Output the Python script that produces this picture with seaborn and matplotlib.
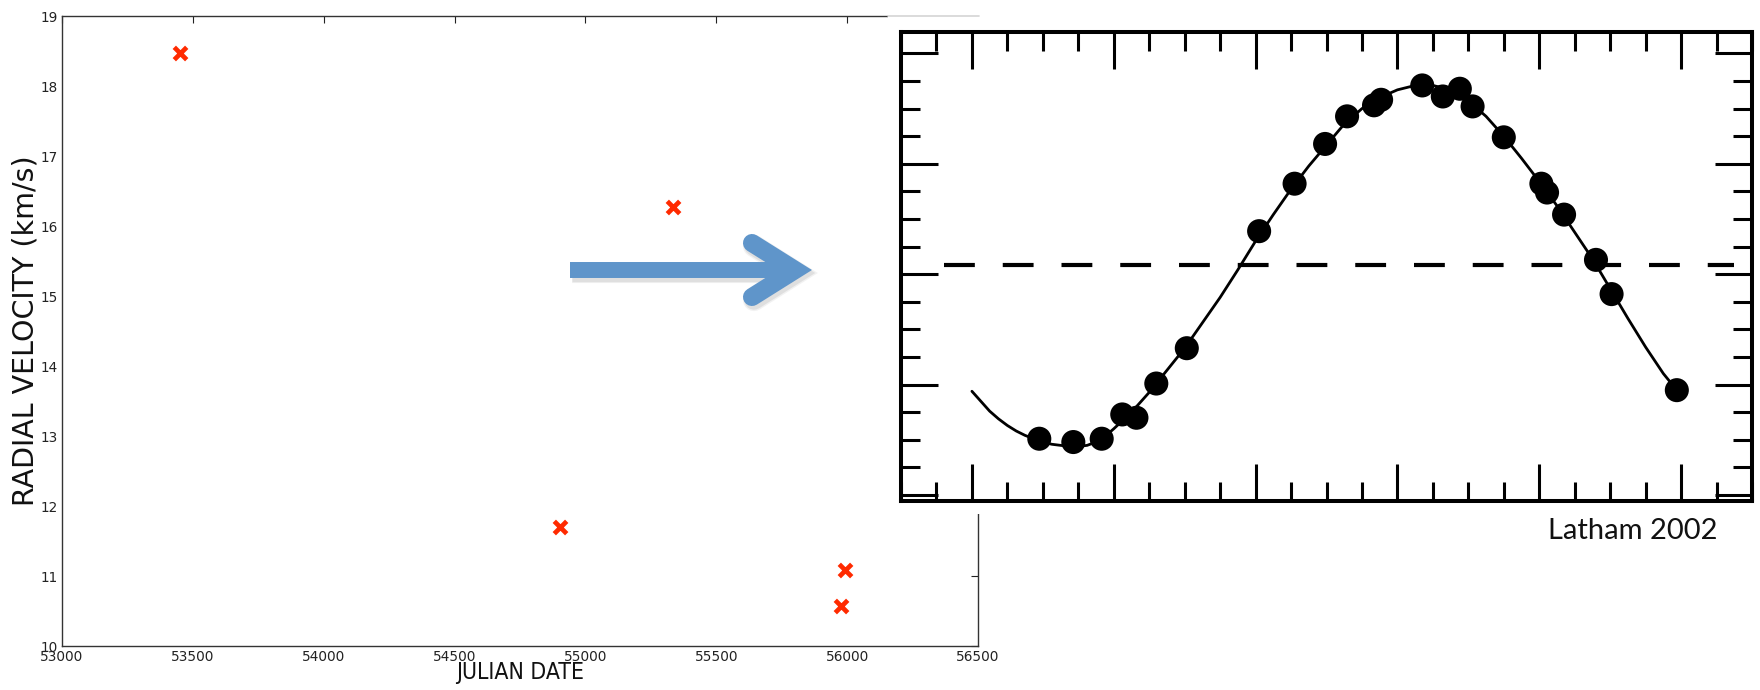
import matplotlib
matplotlib.use("Agg")
import matplotlib.pyplot as plt
from matplotlib.patches import Rectangle
from matplotlib.lines import Line2D
from matplotlib.ticker import MultipleLocator, NullFormatter
import seaborn as sns

# Radial velocity measurements
julian_date = [53450, 54902, 55335, 55990, 55978]
radial_velocity = [18.47, 11.70, 16.27, 11.08, 10.57]
x_ticks = [53000, 53500, 54000, 54500, 55000, 55500, 56000, 56500]
y_ticks = [10, 11, 12, 13, 14, 15, 16, 17, 18, 19]

# Phase-folded velocities (Latham 2002)
phase = [0.095, 0.143, 0.183, 0.212, 0.232, 0.260, 0.303, 0.405, 0.455,
         0.498, 0.529, 0.567, 0.577, 0.635, 0.664, 0.688, 0.706, 0.750,
         0.803, 0.811, 0.835, 0.880, 0.902, 0.994]
phase_vel = [0.51, 0.48, 0.51, 0.73, 0.70, 1.01, 1.33, 2.39, 2.82,
             3.18, 3.43, 3.53, 3.58, 3.71, 3.61, 3.68, 3.52, 3.24,
             2.82, 2.74, 2.54, 2.13, 1.82, 0.95]
orbit_phase = [0.000, 0.0125, 0.025, 0.0375, 0.050, 0.0625, 0.075, 0.0875,
               0.100, 0.1125, 0.125, 0.1375, 0.150, 0.1625, 0.175, 0.1875,
               0.200, 0.225, 0.250, 0.275, 0.300, 0.325, 0.350, 0.375, 0.400,
               0.425, 0.450, 0.475, 0.500, 0.525, 0.550, 0.575, 0.600, 0.625,
               0.650, 0.675, 0.700, 0.725, 0.750, 0.775, 0.800, 0.825, 0.850,
               0.875, 0.900, 0.925, 0.950, 0.975, 0.994]
orbit_vel = [0.94, 0.85, 0.76, 0.69, 0.63, 0.58, 0.54, 0.51,
             0.48, 0.46, 0.45, 0.44, 0.44, 0.45, 0.48, 0.53,
             0.60, 0.75, 0.93, 1.13, 1.33, 1.56, 1.79, 2.04, 2.30,
             2.54, 2.77, 2.98, 3.17, 3.36, 3.50, 3.60, 3.67, 3.71,
             3.71, 3.67, 3.57, 3.43, 3.25, 3.05, 2.84, 2.62, 2.38,
             2.14, 1.87, 1.60, 1.34, 1.10, 0.95]
systemic_vel = 2.08

sns.set_theme(style="white")
plt.rcParams["font.family"] = ["DejaVu Sans"]

W, H = 1760, 690
fig = plt.figure(figsize=(W / 100, H / 100), dpi=100)


def fx(px):
    return px / W


def fy(py):
    return (H - py) / H


# ---- main scatter panel ----
ax = fig.add_axes([fx(62), fy(646), fx(978) - fx(62), fy(16) - fy(646)])
sns.scatterplot(x=julian_date, y=radial_velocity, marker="x", s=80,
                linewidth=3.4, color="#FF2A00", ax=ax, zorder=3)
ax.set_xlim(53000, 56500)
ax.set_ylim(10, 19)
ax.set_xticks(x_ticks)
ax.set_yticks(y_ticks)
ax.tick_params(direction="in", length=5, width=0.8, top=True, right=True,
               labelsize=9.8, colors="#222222", pad=3)
for s in ax.spines.values():
    s.set_visible(True)
    s.set_color("#333333")
    s.set_linewidth(1.0)
ax.set_xlabel("JULIAN DATE", fontsize=16.5, fontstretch="condensed",
              color="#111111", labelpad=-2)
ax.set_ylabel("RADIAL VELOCITY (km/s)", fontsize=20.5, color="#111111",
              labelpad=1)

# white backing of the orbit panel
fig.patches.append(Rectangle((fx(888), fy(514)), fx(W) - fx(888), fy(0) - fy(514),
                             transform=fig.transFigure, facecolor="white",
                             edgecolor="none", zorder=5))
fig.lines.append(Line2D([fx(888), fx(979)], [fy(16), fy(16)],
                        transform=fig.transFigure, color="#d4d4d4", lw=1.2,
                        zorder=6))

# ---- arrow with a soft drop shadow ----
blue = "#5F95CA"
layers = [(2.0, 3.0, "#808080", 0.10, 3.0), (2.0, 3.0, "#808080", 0.16, 1.0),
          (0, 0, blue, 1.0, 0.0)]
for dx, dy, col, alpha, grow in layers:
    fig.lines.append(Line2D([fx(570 + dx), fx(790 + dx)], [fy(270 + dy), fy(270 + dy)],
                            transform=fig.transFigure, color=col, alpha=alpha,
                            lw=11.5 + grow, solid_capstyle="butt", zorder=6))
    fig.lines.append(Line2D([fx(752 + dx), fx(795 + dx), fx(752 + dx)],
                            [fy(243 + dy), fy(270 + dy), fy(297 + dy)],
                            transform=fig.transFigure, color=col, alpha=alpha,
                            lw=13 + grow, solid_capstyle="round",
                            solid_joinstyle="miter", zorder=6))

# ---- phase-folded orbit panel ----
ax2 = fig.add_axes([fx(901), fy(501), fx(1752) - fx(901), fy(32) - fy(501)])
ax2.set_zorder(10)
ax2.patch.set_facecolor("white")
ax2.axhline(systemic_vel, xmin=0.051, xmax=0.979, color="black", lw=3,
            ls=(0, (7.4, 6.7)), zorder=1)
sns.lineplot(x=orbit_phase, y=orbit_vel, sort=False, color="black", lw=2.0,
             ax=ax2, zorder=2)
sns.scatterplot(x=phase, y=phase_vel, s=300, color="black", edgecolor="none",
                ax=ax2, zorder=3)
ax2.set_xlim(-0.1, 1.1)
ax2.set_ylim(-0.054, 4.194)
ax2.xaxis.set_major_locator(MultipleLocator(0.2))
ax2.xaxis.set_minor_locator(MultipleLocator(0.05))
ax2.yaxis.set_major_locator(MultipleLocator(1))
ax2.yaxis.set_minor_locator(MultipleLocator(0.25))
ax2.xaxis.set_major_formatter(NullFormatter())
ax2.yaxis.set_major_formatter(NullFormatter())
ax2.tick_params(which="both", direction="in", top=True, right=True,
                bottom=True, left=True, labelbottom=False, labelleft=False,
                color="black", width=2.2)
ax2.tick_params(which="major", length=26.5)
ax2.tick_params(which="minor", length=13.5)
for s in ax2.spines.values():
    s.set_visible(True)
    s.set_color("black")
    s.set_linewidth(2.9)
ax2.set_xlabel("")
ax2.set_ylabel("")

fig.text(fx(1717), fy(539), "Latham 2002", family=["Lato", "DejaVu Sans"],
         fontsize=21, ha="right", va="baseline", color="#111111", zorder=11)

fig.savefig("out.png", dpi=100, facecolor="white")
